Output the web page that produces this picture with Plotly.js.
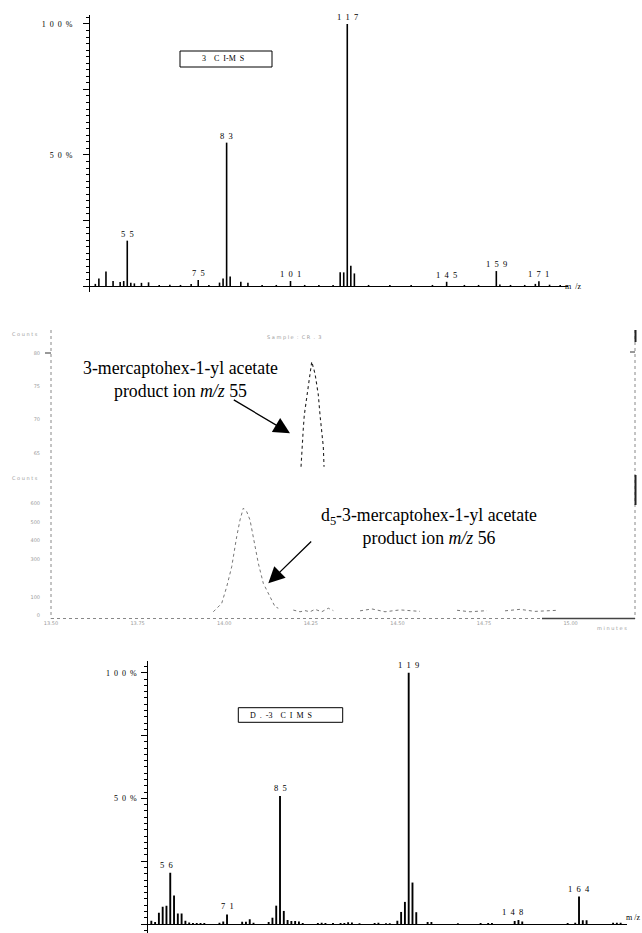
<!DOCTYPE html>
<html><head><meta charset="utf-8">
<script src="https://cdn.plot.ly/plotly-3.0.1.min.js"></script>
<style>html,body{margin:0;padding:0;background:#fff}#chart{width:642px;height:933px}</style>
</head><body><div id="chart"></div>
<script>
// ---- Panel 1: CI-MS of 3-mercaptohex-1-yl acetate (relative intensity %) ----
var mz1  = [46,47,49,51,53,54,55,56,57,59,61,64,67,70,73,75,78,81,82,83,84,87,89,93,97,101,105,109,113,115,116,117,118,119,123,129,135,141,145,150,154,159,160,163,167,170,171,174,177];
var int1 = [0.8,2.9,5.5,1.9,1.5,1.9,17.3,1.2,1.0,1.2,1.4,0.4,0.5,0.4,0.8,2.3,0.4,1.3,2.9,54.7,3.6,1.6,1.2,0.4,0.4,1.9,0.4,0.4,0.4,5.2,5.2,100,7.7,4.8,0.4,0.4,0.4,0.4,1.6,0.4,0.4,5.7,0.6,0.4,0.4,0.8,1.8,0.5,0.4];
var peakLabels1 = [55,75,83,101,117,145,159,171];

// ---- Panel 3: CI-MS of d5-3-mercaptohex-1-yl acetate (relative intensity %) ----
var mz3  = [51,52,53,54,55,56,57,58,59,60,61,62,63,64,65,69,70,71,75,76,77,78,82,83,84,85,86,87,88,89,90,91,95,96,97,99,101,102,103,104,106,110,111,113,114,116,117,118,119,120,121,124,125,132,138,140,141,147,148,149,161,163,164,165,166,173,174,175];
var int3 = [1.3,0.8,4.5,6.9,7.3,20.4,11.3,4.2,4.2,1.3,0.6,0.4,0.4,0.4,0.4,0.5,1.0,3.8,0.9,0.9,1.9,0.5,0.8,2.5,7.3,50.9,5.2,1.6,1.2,1.2,1.0,0.4,0.4,0.5,0.4,0.4,0.4,0.4,0.7,0.6,0.3,0.4,0.5,0.3,0.3,1.3,4.8,8.8,100,16.5,4.7,0.8,0.8,0.3,0.4,0.4,0.4,1.2,1.6,1.0,0.4,0.5,10.9,1.5,1.5,0.5,0.5,0.5];
var peakLabels3 = [56,71,85,119,148,164];

// ---- Panel 2: chromatograms (time in minutes, counts) ----
var timeTicks  = [13.50,13.75,14.00,14.25,14.50,14.75,15.00];
var timeLabels = ["13.50","13.75","14.00","14.25","14.50","14.75","15.00"];
var t55 = [14.2218,14.2238,14.2284,14.2313,14.2382,14.2457,14.2527,14.2622,14.2671,14.2717,14.2766,14.2815,14.2861,14.2882];
var c55 = [62.9,65.2,68.7,70.7,73.4,76.7,78.7,76.9,75.4,73.7,70.7,67.7,65.9,62.9];
var t56 = [13.9686,13.9928,14.0073,14.0217,14.0361,14.0457,14.0552,14.0650,14.0745,14.0840,14.0985,14.1129,14.1323,14.1467,14.1562,null,
           14.1995,14.2189,14.2333,14.2477,14.2622,14.2815,14.3006,14.3150,null,
           14.3921,14.4267,14.4642,14.5076,14.5653,null,
           14.6721,14.7097,14.7587,null,
           14.8107,14.8540,14.8973,14.9637];
var c56 = [20,65,154,261,422,511,574,555,511,422,279,172,101,47,39,null,
           29,20,26,20,33,20,39,26,null,
           25,35,20,30,22,null,
           28,20,26,null,
           25,33,22,28];
var counts55Ticks = [65,70,75,80];
var counts56Ticks = [0,100,300,400,500,600];

// ---------------------------------------------------------------
var W = 642, H = 933;
function px(x){return x/W;}
function py(y){return 1 - y/H;}
var SP = '\u2002';
function spaced(v){return String(v).split('').join(SP);}
var serif = 'Liberation Serif, Times New Roman, serif';
var grey = '#9a9a9a';

var traces = [
  {type:'bar', x:mz1, y:int1, xaxis:'x', yaxis:'y', width:0.45,
   marker:{color:'#000', line:{width:0}}, hoverinfo:'x+y'},
  {type:'bar', x:mz3, y:int3, xaxis:'x3', yaxis:'y4', width:0.5,
   marker:{color:'#000', line:{width:0}}, hoverinfo:'x+y'},
  {type:'scatter', mode:'lines', x:t55, y:c55, xaxis:'x2', yaxis:'y2',
   line:{color:'#222', width:1.1, dash:'dot'}, connectgaps:false},
  {type:'scatter', mode:'lines', x:t56, y:c56, xaxis:'x2', yaxis:'y3',
   line:{color:'#777', width:1, dash:'dot'}, connectgaps:false}
];

function lookup(mzArr, intArr, m){ return intArr[mzArr.indexOf(m)]; }

var annotations = [];
function note(o){ o.xanchor = o.xanchor || 'center'; o.yanchor = o.yanchor || 'middle'; o.showarrow = o.showarrow || false; annotations.push(o); }

peakLabels1.forEach(function(m){
  note({xref:'x', yref:'y', x:m, y:lookup(mz1,int1,m), text:spaced(m),
    yanchor:'bottom', yshift:0, font:{family:serif, size:8.5, color:'#000'}});
});
peakLabels3.forEach(function(m){
  note({xref:'x3', yref:'y4', x:m, y:lookup(mz3,int3,m), text:spaced(m),
    yanchor:'bottom', yshift:1, xshift:(m===148?-6:(m===56?-4:0)),
    font:{family:serif, size:8.5, color:'#000'}});
});
// box labels and m/z axis labels
note({xref:'paper', yref:'paper', x:px(223), y:py(59), text:'3'+SP+SP+'C'+SP+'I-M'+SP+'S',
  font:{family:serif, size:8, color:'#000'}});
note({xref:'paper', yref:'paper', x:px(248), y:py(715), xanchor:'left', text:'D'+SP+'.'+SP+'-3'+SP+SP+'C'+SP+'I'+SP+'M'+SP+'S',
  font:{family:serif, size:8, color:'#000'}});
note({xref:'paper', yref:'paper', x:px(563), y:py(286), xanchor:'left', text:'m'+SP+'/z',
  font:{family:serif, size:8, color:'#000'}});
note({xref:'paper', yref:'paper', x:px(624), y:py(917), xanchor:'left', text:'m /z',
  font:{family:serif, size:8, color:'#000'}});
// middle panel small grey text
note({xref:'paper', yref:'paper', x:px(294), y:py(337), text:'S a m p l e  :  C R  .  3',
  font:{family:'DejaVu Sans', size:5, color:grey}});
note({xref:'paper', yref:'paper', x:px(40), y:py(334), xanchor:'right', text:'C o u n t s',
  font:{family:'DejaVu Sans', size:5, color:grey}});
note({xref:'paper', yref:'paper', x:px(40), y:py(478), xanchor:'right', text:'C o u n t s',
  font:{family:'DejaVu Sans', size:5, color:grey}});
note({xref:'paper', yref:'paper', x:px(612), y:py(628), text:'m i n u t e s',
  font:{family:'DejaVu Sans', size:5, color:grey}});
// compound annotations
note({xref:'paper', yref:'paper', x:px(181), y:py(379), text:'3-mercaptohex-1-yl acetate<br>product ion <i>m/z</i> 55',
  font:{family:serif, size:17.8, color:'#000'}});
note({xref:'paper', yref:'paper', x:px(428.5), y:py(526), text:'d<sub>5</sub>-3-mercaptohex-1-yl acetate<br>product ion <i>m/z</i> 56',
  font:{family:serif, size:17.8, color:'#000'}});
// arrows
annotations.push({xref:'paper', yref:'paper', x:px(290), y:py(433.3), text:'', showarrow:true,
  ax:-57.7, ay:-34.3, arrowhead:2, arrowsize:2.5, arrowwidth:1.3, arrowcolor:'#000'});
annotations.push({xref:'paper', yref:'paper', x:px(268.3), y:py(583.3), text:'', showarrow:true,
  ax:44.4, ay:-43.3, arrowhead:2, arrowsize:2.5, arrowwidth:1.3, arrowcolor:'#000'});

var shapes = [
  // boxes
  {type:'rect', xref:'paper', yref:'paper', x0:px(180), x1:px(272), y0:py(51), y1:py(67), line:{color:'#000', width:1}},
  {type:'rect', xref:'paper', yref:'paper', x0:px(238.3), x1:px(342.7), y0:py(707.7), y1:py(722.3), line:{color:'#000', width:1}},
  // middle panel frame (dotted scan look)
  {type:'line', xref:'paper', yref:'paper', x0:px(51), x1:px(51), y0:py(330), y1:py(618.5), line:{color:'#888', width:1, dash:'dot'}},
  {type:'line', xref:'paper', yref:'paper', x0:px(635), x1:px(635), y0:py(330), y1:py(618.5), line:{color:'#888', width:1, dash:'dot'}},
  {type:'line', xref:'paper', yref:'paper', x0:px(51), x1:px(542), y0:py(618.5), y1:py(618.5), line:{color:'#888', width:1, dash:'dot'}},
  {type:'line', xref:'paper', yref:'paper', x0:px(542), x1:px(635), y0:py(618.5), y1:py(618.5), line:{color:'#444', width:1.5}},
  {type:'line', xref:'paper', yref:'paper', x0:px(45), x1:px(51), y0:py(353), y1:py(353), line:{color:'#333', width:1}},
  {type:'line', xref:'paper', yref:'paper', x0:px(630), x1:px(635), y0:py(352), y1:py(352), line:{color:'#333', width:1}},
  {type:'line', xref:'paper', yref:'paper', x0:px(635.5), x1:px(635.5), y0:py(330), y1:py(342), line:{color:'#222', width:2}},
  {type:'line', xref:'paper', yref:'paper', x0:px(635.5), x1:px(635.5), y0:py(475), y1:py(505), line:{color:'#222', width:2}}
];

var tickFontBlack = {family:serif, size:8, color:'#000'};
var tickFontGrey = {family:'DejaVu Sans', size:5, color:grey};
var pctText = ['', '', spaced('50')+SP+'%', '', spaced('100')+SP+'%'];

var layout = {
  width:W, height:H, margin:{l:0,r:0,t:0,b:0}, paper_bgcolor:'#fff', plot_bgcolor:'rgba(0,0,0,0)',
  showlegend:false, hovermode:false, barmode:'overlay',
  // panel 1
  xaxis:{domain:[px(90),px(568)], range:[44.5,179.2], anchor:'y', showline:false, showticklabels:false,
         ticks:'', showgrid:false, zeroline:false},
  yaxis:{domain:[py(292),py(15)], range:[-2.29,103.4], anchor:'x', showline:true, linecolor:'#000', linewidth:1,
         ticks:'outside', ticklen:6, tickwidth:1, tickcolor:'#000', tickmode:'array',
         tickvals:[0,25,50,75,100], ticktext:pctText, tickfont:tickFontBlack,
         ticklabelstandoff:9,
         minor:{tickmode:'linear', tick0:0, dtick:2.5, ticks:'outside', ticklen:3, tickcolor:'#000', showgrid:false},
         showgrid:false, zeroline:true, zerolinecolor:'#000', zerolinewidth:1},
  // panel 2 (chromatograms)
  xaxis2:{domain:[px(51),px(635)], range:[13.50, 13.50 + (635-51)/86.6*0.25], anchor:'y3', showline:false,
          showgrid:false, zeroline:false, ticks:'', tickmode:'array', tickvals:timeTicks, ticktext:timeLabels,
          tickfont:tickFontGrey, ticklabelstandoff:0},
  yaxis2:{domain:[py(467),py(330)], range:[62.86,83.46], anchor:'x2', showline:false, showgrid:false, zeroline:false,
          ticks:'', tickmode:'array', tickvals:counts55Ticks, ticktext:counts55Ticks.map(String), tickfont:tickFontGrey,
          ticklabelstandoff:10},
  yaxis3:{domain:[py(618.5),py(467)], range:[-16,794], anchor:'x2', showline:false, showgrid:false, zeroline:false,
          ticks:'', tickmode:'array', tickvals:counts56Ticks, ticktext:counts56Ticks.map(String), tickfont:tickFontGrey,
          ticklabelstandoff:10},
  // panel 3
  xaxis3:{domain:[px(148.3),px(626.7)], range:[50.2,176.6], anchor:'y4', showline:false, showticklabels:false,
          ticks:'', showgrid:false, zeroline:false},
  yaxis4:{domain:[0,py(660.7)], range:[-3.58,104.8], anchor:'x3', showline:true, linecolor:'#000', linewidth:1,
          ticks:'outside', ticklen:6, tickwidth:1, tickcolor:'#000', tickmode:'array',
          tickvals:[0,25,50,75,100], ticktext:pctText, tickfont:tickFontBlack,
          ticklabelstandoff:3,
          minor:{tickmode:'linear', tick0:0, dtick:2.5, ticks:'outside', ticklen:3, tickcolor:'#000', showgrid:false},
          showgrid:false, zeroline:true, zerolinecolor:'#000', zerolinewidth:1},
  annotations:annotations, shapes:shapes
};

Plotly.newPlot('chart', traces, layout, {staticPlot:true, displayModeBar:false});
</script>
</body></html>
